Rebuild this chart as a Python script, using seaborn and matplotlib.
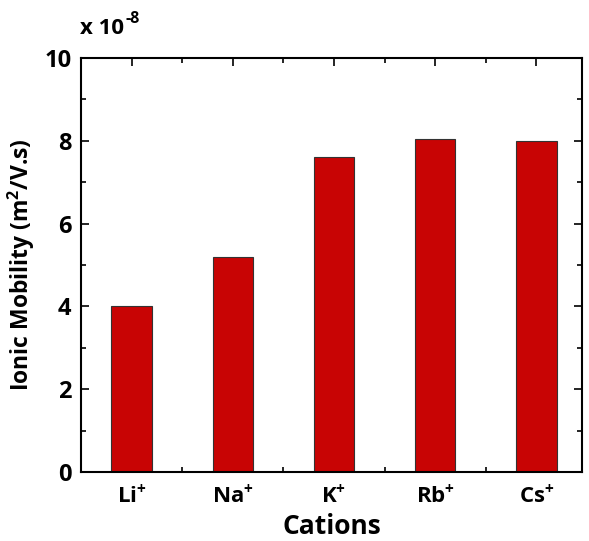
import matplotlib
matplotlib.use("Agg")
import matplotlib.pyplot as plt
import seaborn as sns
import pandas as pd
from matplotlib.ticker import MultipleLocator, FixedLocator

cations = ["Li$^{+}$", "Na$^{+}$", "K$^{+}$", "Rb$^{+}$", "Cs$^{+}$"]
mobility = [4.01, 5.19, 7.62, 8.05, 8.00]  # x 1e-8 m^2/(V.s)

df = pd.DataFrame({"cation": cations, "mobility": mobility})

sns.set_style("ticks")
FONT = "Open Sans"
plt.rcParams['font.family'] = [FONT, 'DejaVu Sans']
plt.rcParams['font.weight'] = 'bold'
plt.rcParams['text.color'] = 'black'
plt.rcParams['axes.labelcolor'] = 'black'
plt.rcParams['xtick.color'] = 'black'
plt.rcParams['ytick.color'] = 'black'
plt.rcParams['mathtext.fontset'] = 'custom'
plt.rcParams['mathtext.rm'] = FONT + ':bold'
plt.rcParams['mathtext.bf'] = FONT + ':bold'
plt.rcParams['mathtext.it'] = FONT + ':bold'

fig = plt.figure(figsize=(5.89, 5.41), dpi=100)
ax = fig.add_axes([81/589, 1-472/541, (582-81)/589, (472-58)/541])

sns.barplot(data=df, x="cation", y="mobility", color="#C80404", width=0.4,
            edgecolor="#333333", linewidth=0.8, saturation=1, ax=ax)

ax.set_ylim(0, 10)
ax.set_xlim(-0.5, 4.45)
ax.yaxis.set_major_locator(MultipleLocator(2))
ax.yaxis.set_minor_locator(MultipleLocator(1))
ax.xaxis.set_minor_locator(FixedLocator([0.5, 1.5, 2.5, 3.5]))
ax.tick_params(which="both", direction="in", top=True, right=True, width=1.2, colors="black")
ax.tick_params(which="major", length=6)
ax.tick_params(which="minor", length=3.5)
ax.tick_params(axis="y", labelsize=17, pad=7)
ax.tick_params(axis="x", labelsize=16, pad=8)
for lab in ax.get_xticklabels() + ax.get_yticklabels():
    lab.set_fontweight("bold")
for s in ax.spines.values():
    s.set_linewidth(1.5)
    s.set_color("black")

ax.set_xlabel("Cations", fontsize=19, fontweight="bold", labelpad=4, color="black")
ax.set_ylabel("Ionic Mobility (m$^{2}$/V.s)", fontsize=16.5, fontweight="bold", labelpad=5, color="black")
fig.text(80/589, 1-29/541, "x 10", fontsize=16, fontweight="bold", va="center", ha="left", color="black")
fig.text(125/589, 1-19/541, "-8", fontsize=11.5, fontweight="bold", va="center", ha="left", color="black")

fig.savefig("out.png", dpi=100)
